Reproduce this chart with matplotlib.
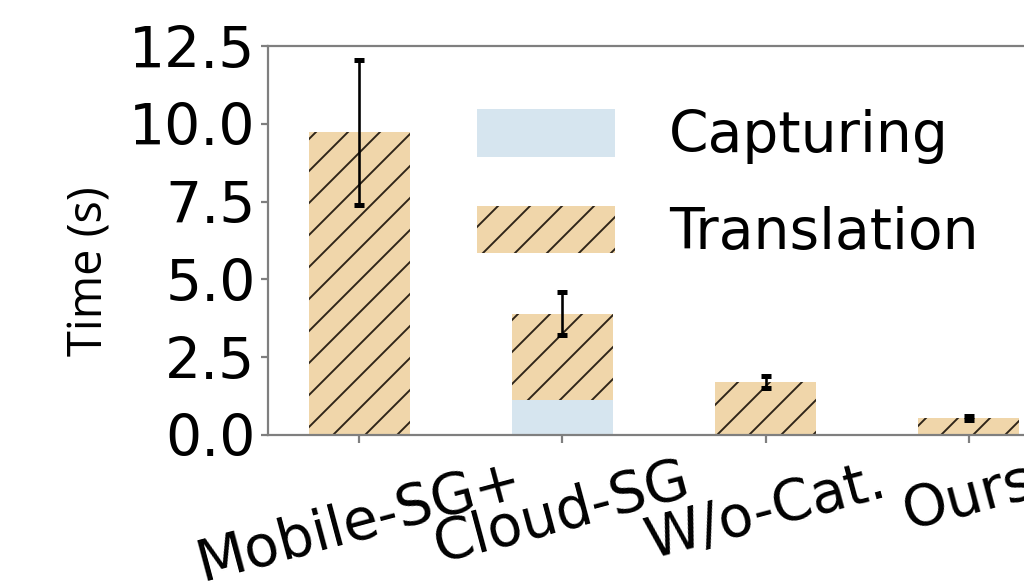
import matplotlib
matplotlib.use("Agg")
import matplotlib.pyplot as plt
import numpy as np

categories = ["Mobile-SG+", "Cloud-SG", "W/o-Cat.", "Ours"]
capturing = [0.0, 1.13, 0.0, 0.0]
translation = [9.73, 2.77, 1.70, 0.55]
err = [2.33, 0.68, 0.2, 0.06]
yticks = [0.0, 2.5, 5.0, 7.5, 10.0, 12.5]

DPI = 96


def pt(px):
    return px * 72.0 / DPI


plt.rcParams['font.family'] = ['DejaVu Sans']
plt.rcParams['hatch.linewidth'] = pt(1.9)

em = 56.7
fs = pt(em)

fig = plt.figure(figsize=(1024 / DPI, 586 / DPI), dpi=DPI)
ax = fig.add_axes([268/1024, 1-435/586, 792/1024, 389/586])

x = np.arange(len(categories))
w = 0.5
cap_color = '#d6e5ef'
tr_color = '#f0d6aa'
ax.bar(x, capturing, w, color=cap_color, linewidth=0, label='Capturing')
ax.bar(x, translation, w, bottom=capturing, color=tr_color, edgecolor='#2e2418',
       linewidth=0, hatch='/', label='Translation')
tops = np.array(capturing) + np.array(translation)
ax.errorbar(x, tops, yerr=err, fmt='none', ecolor='black', elinewidth=pt(2.6),
            capsize=pt(5), capthick=pt(5))

ax.set_xlim(-0.45, 3.45)
ax.set_ylim(0, 12.5)
ax.set_yticks(yticks)
ax.set_yticklabels([f"{v:.1f}" for v in yticks], fontsize=fs)
ax.set_xticks(x)
ax.set_xticklabels(categories, fontsize=fs, rotation=15, ha='center')
ax.set_ylabel('Time (s)', fontsize=pt(47), family=['Open Sans', 'DejaVu Sans'],
              labelpad=pt(16), y=0.42)

for s in ax.spines.values():
    s.set_color('#7f7f7f')
    s.set_linewidth(pt(2.2))
ax.tick_params(axis='both', colors='#7f7f7f', length=pt(7.5), width=pt(2.2),
               labelcolor='black')
ax.tick_params(axis='y', pad=pt(5))
ax.tick_params(axis='x', pad=pt(11))

leg = ax.legend(loc='upper left', bbox_to_anchor=(0.2424, 0.882), fontsize=fs, frameon=False,
                handlelength=138/em, handleheight=52/em, handletextpad=0.95,
                labelspacing=0.73, borderpad=0.3, borderaxespad=0)

fig.savefig('out.png', dpi=DPI)
